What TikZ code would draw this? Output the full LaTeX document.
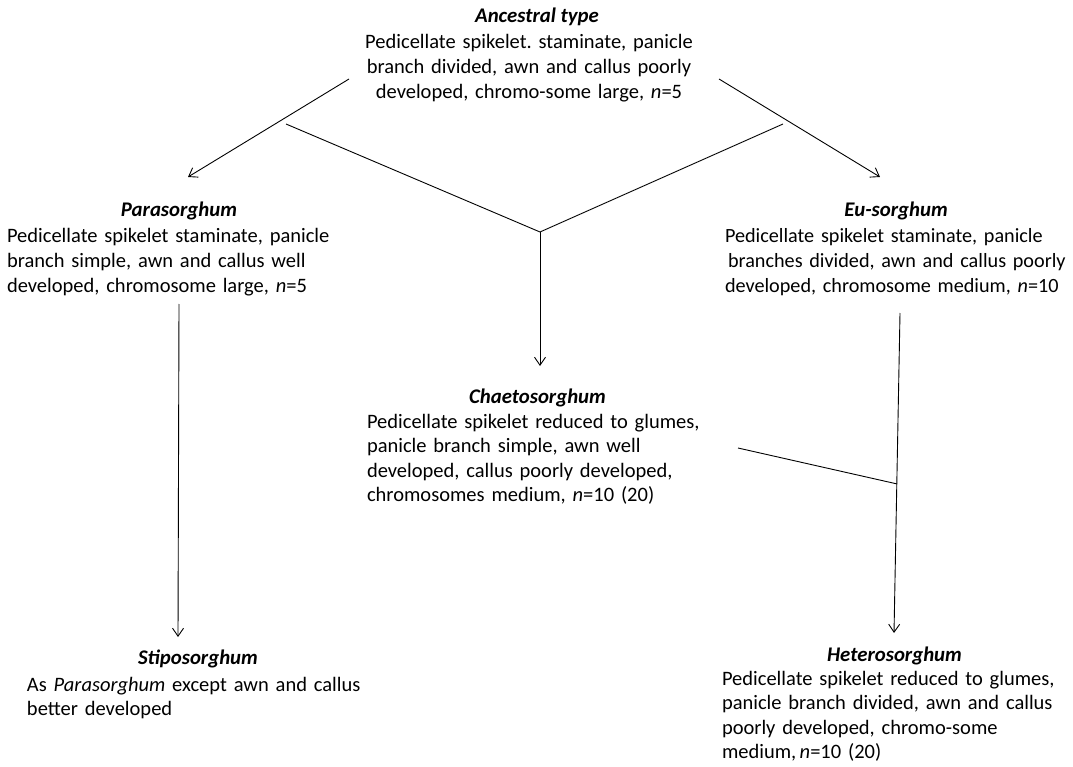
\documentclass[tikz,border=0pt]{standalone}
\usepackage{fontspec}
\setmainfont{Carlito}
\usetikzlibrary{arrows.meta,calc}
\begin{document}
\frenchspacing
\begin{tikzpicture}[x=1pt,y=-1pt,
  every node/.style={inner sep=0pt, outer sep=0pt, font=\fontsize{20.5}{24.6}\selectfont},
  ttl/.style={anchor=base, font=\fontsize{20.8}{24.6}\selectfont\bfseries\itshape},
  bodyL/.style={anchor=base west, text width=380pt, align=left},
  bodyC/.style={anchor=base, text width=380pt, align=center},
  conn/.style={line width=0.9pt, draw=black},
  arr/.style={conn, -{Straight Barb[length=8pt,width=11pt,line width=0.9pt]}}]
\useasboundingbox (0,0) rectangle (1073,767);

% titles
\node[ttl] (ancT) at (537,23) {Ancestral type};
\node[ttl] (paraT) at (179,217) {Parasorghum};
\node[ttl] (euT) at (896,217) {Eu-sorghum};
\node[ttl] (chaT) at (537.5,403) {Chaetosorghum};
\node[ttl] (stipT) at (198,664) {Stiposorghum};
\node[ttl] (hetT) at (894.5,661) {Heterosorghum};

% bodies
\node[bodyC] (ancB) at (529,49) {Pedicellate spikelet. staminate, panicle\\branch divided, awn and callus poorly\\developed, chromo-some large, \textit{n}=5};
\node[bodyL] (paraB) at (7,243) {Pedicellate spikelet staminate, panicle\\branch simple, awn and callus well\\developed, chromosome large, \textit{n}=5};
\node[bodyL, font=\fontsize{20.2}{24.6}\selectfont] (euB) at (725,243) {Pedicellate spikelet staminate, panicle\\\hspace*{3pt}branches divided, awn and callus poorly\\developed, chromosome medium, \textit{n}=10};
\node[bodyL] (chaB) at (367,428) {Pedicellate spikelet reduced to glumes,\\panicle branch simple, awn well\\developed, callus poorly developed,\\chromosomes medium, \textit{n}=10 (20)};
\node[bodyL] (stipB) at (27,691) {As \textit{Parasorghum} except awn and callus\\better developed};
\node[bodyL] (hetB) at (722,685) {Pedicellate spikelet reduced to glumes,\\panicle branch divided, awn and callus\\poorly developed, chromo-some\\medium,\,\textit{n}=10 (20)};

% connector points
\coordinate (ancL) at (349,79);
\coordinate (ancR) at (719,79);
\coordinate (paraIn) at (188,177);
\coordinate (euIn) at (880,177);
\coordinate (vL) at (286,124);
\coordinate (vR) at (783,124);
\coordinate (vJ) at (540,232);
\coordinate (chaIn) at (540,366);
\coordinate (paraOut) at (179,304);
\coordinate (stipIn) at (178,637);
\coordinate (euOut) at (900,313);
\coordinate (hetIn) at (894,633);
\coordinate (chaOut) at (738,448);
\coordinate (merge) at ($(euOut)!0.534!(hetIn)$);

\draw[arr] (ancL) -- (paraIn);
\draw[arr] (ancR) -- (euIn);
\draw[conn] (vL) -- (vJ) -- (vR);
\draw[arr] (vJ) -- (chaIn);
\draw[arr] (paraOut) -- (stipIn);
\draw[arr] (euOut) -- (hetIn);
\draw[conn] (chaOut) -- (merge);
\end{tikzpicture}
\end{document}
